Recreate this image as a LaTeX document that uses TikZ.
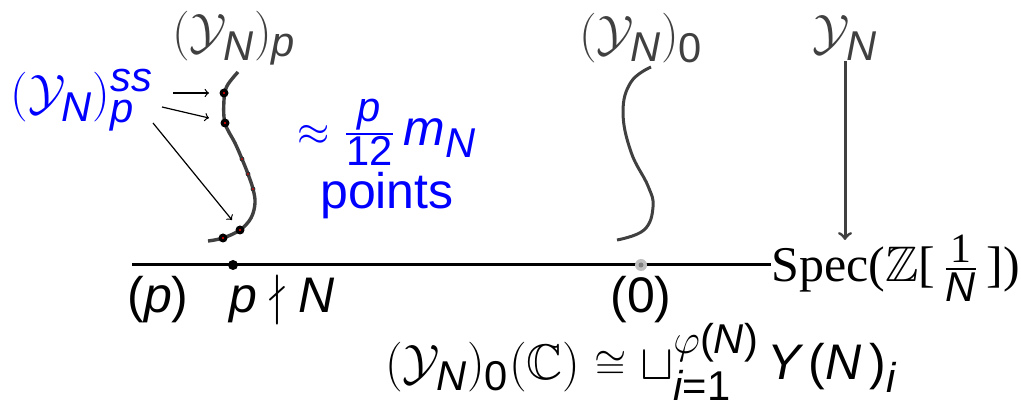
\documentclass[tikz,border=0pt]{standalone}
\usepackage{amsmath}
\usepackage{amssymb}
\usepackage{fontspec}
\setmainfont{Liberation Sans}
\usepackage[italic]{mathastext}
\newfontfamily\serif{Liberation Serif}
\newcommand\up[1]{\text{#1}}
\definecolor{dk}{RGB}{64,64,64}
\definecolor{bl}{RGB}{0,0,255}
\tikzset{
  lbl/.style={inner sep=0pt, font=\fontsize{25}{30}\selectfont},
  glbl/.style={lbl, text=dk},
  blbl/.style={lbl, text=bl},
  bigdot/.style={circle, fill=black, inner sep=0pt, minimum size=4.5pt, path picture={\fill[red] (path picture bounding box.center) circle (0.6pt);}},
  smdot/.style={circle, fill=black!80, inner sep=0pt, minimum size=2.4pt, path picture={\fill[red] (path picture bounding box.center) circle (0.4pt);}},
  fiber/.style={draw=dk, line width=1.7pt},
  thinarrow/.style={->, line width=0.6pt},
}
\begin{document}
\begin{tikzpicture}[x=0.5pt,y=-0.5pt]
\useasboundingbox (0,0) rectangle (1021,405);
% top labels
\node[glbl] (Yp) at (234,38) {$(\mathcal{Y}_N)_p$};
\node[glbl] (Y0) at (641,38) {$(\mathcal{Y}_N)_{\up{0}}$};
\node[glbl] (Y) at (845,38) {$\mathcal{Y}_N$};
% base line
\node[lbl, anchor=west] (Spec) at (771,268) {\serif Spec($\mathbb{Z}$[\,$\frac{\up{1}}{N}$\,])};
\coordinate (L) at (132,265);
\coordinate (R) at (771,265);
\draw[line width=1.5pt] (L) -- (R);
\node[circle, fill=black, inner sep=0pt, minimum size=5pt] (P) at (233,265) {};
\node[circle, fill=black!25, inner sep=0pt, minimum size=6pt] (Z) at (641,265) {};
\node[circle, fill=black!50, inner sep=0pt, minimum size=2.5pt] at (Z) {};
% base labels
\node[lbl] (pl) at (158,300) {$\up{(}p\up{)}$};
\node[lbl] (pn) at (282,300) {$p \nmid N$};
\node[lbl] (zl) at (641,300) {$\up{(0)}$};
\node[lbl, anchor=base] (form) at (641,379) {$(\mathcal{Y}_N)_{\up{0}}(\mathbb{C}) \mathrel{\scriptstyle\cong} \sqcup_{i\up{=1}}^{\varphi\up{(}N\up{)}}\, Y\,\up{(}N\,\up{)}_i$};
% arrow Y_N -> Spec
\coordinate (Ya) at (845,240);
\draw[->, draw=dk, line width=1.5pt] (Y.south) -- (Ya);
% fiber at 0
\draw[fiber, line width=1.5pt] plot[smooth, tension=0.7] coordinates {(651,67) (631,82) (623,112) (631,152) (648,186) (653,207) (644,230) (617,240)};
% fiber at p
\draw[fiber] plot[smooth, tension=0.6] coordinates {(238,72) (227,86) (224,100) (225,123) (235,143) (242,159) (248,174) (253,189) (255,203) (251,218) (240,230) (223,238) (208,241)};
\node[bigdot] (d1) at (224,93) {};
\node[bigdot] (d2) at (225,123) {};
\node[smdot] (d3) at (242,159) {};
\node[smdot] (d4) at (248,174) {};
\node[smdot] (d5) at (253,189) {};
\node[bigdot] (d6) at (240,230) {};
\node[bigdot] (d7) at (223,238) {};
% supersingular label and arrows
\node[blbl] (ss) at (82,100) {$(\mathcal{Y}_N)_p^{ss}$};
\coordinate (s1) at (173,93);
\coordinate (s2) at (162,107);
\coordinate (s3) at (153,123);
\coordinate (t1) at (209,93);
\coordinate (t2) at (209,118);
\coordinate (t3) at (232,220);
\draw[thinarrow] (s1) -- (t1);
\draw[thinarrow] (s2) -- (t2);
\draw[thinarrow] (s3) -- (t3);
% count label
\node[blbl, anchor=base] (cnt) at (387,146) {${\scriptstyle\approx}\; \frac{p}{\up{12}}\, m_N$};
\node[blbl] (pts) at (387,196) {points};
\end{tikzpicture}
\end{document}
